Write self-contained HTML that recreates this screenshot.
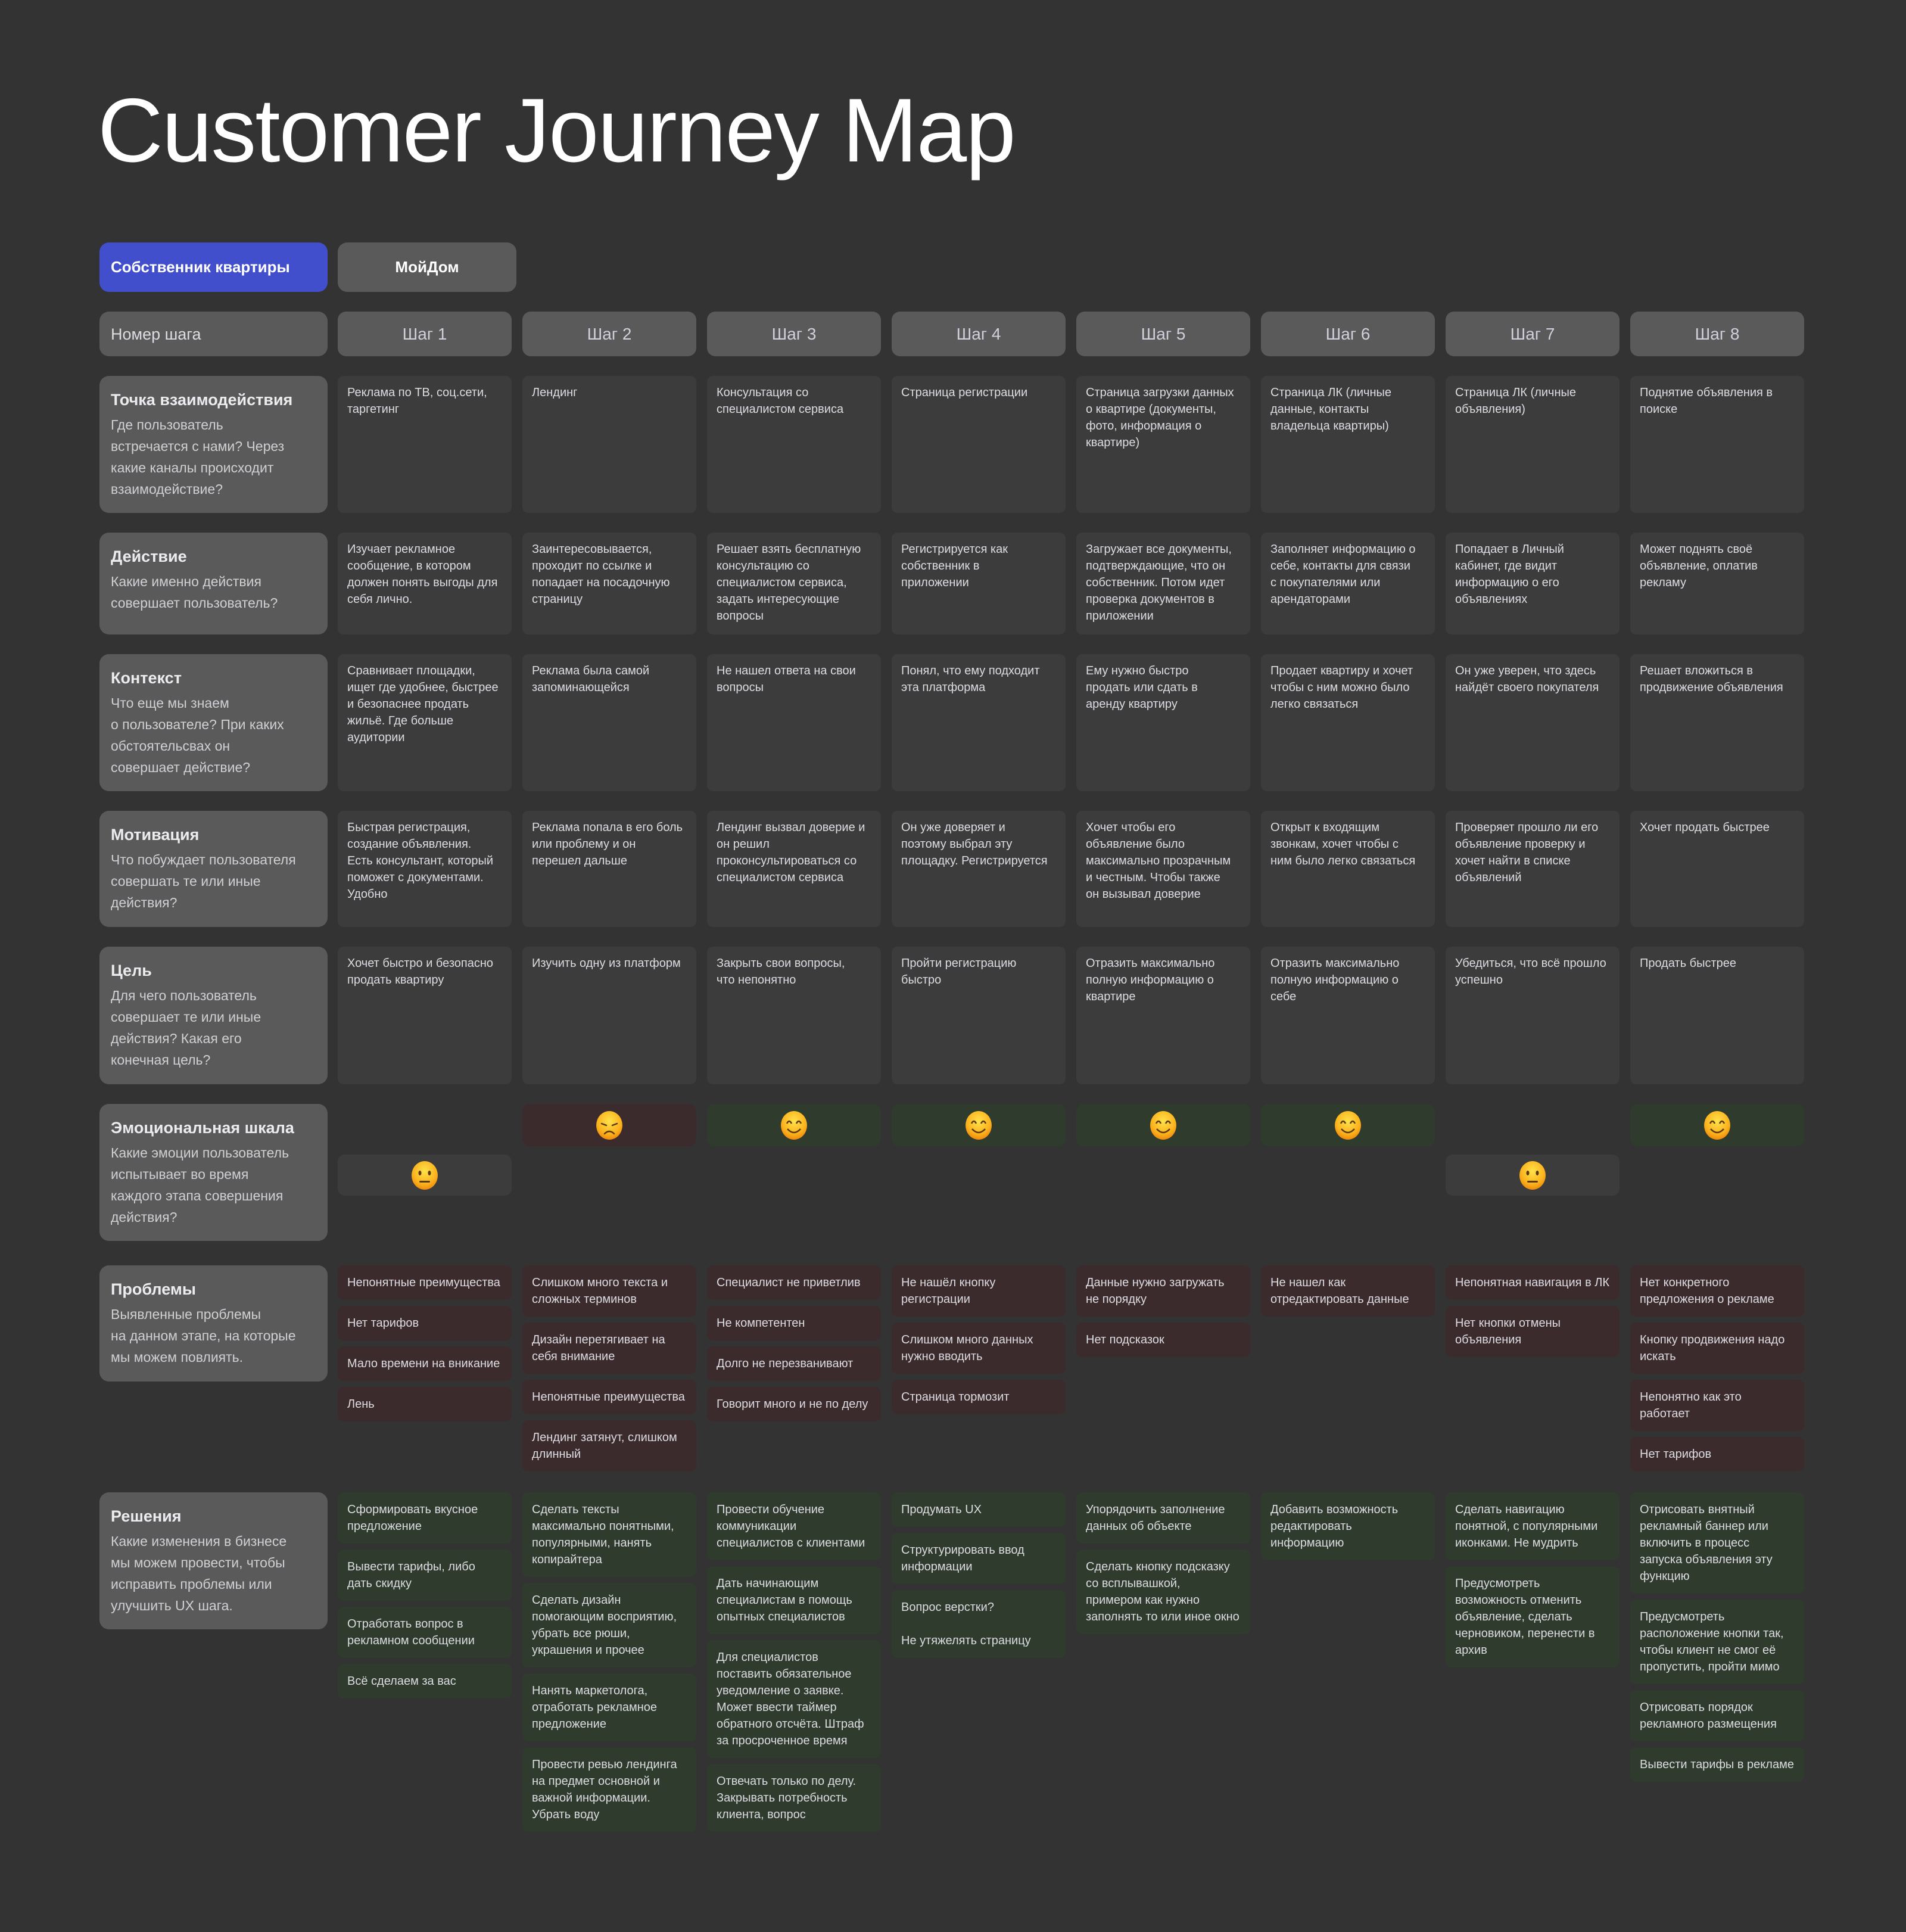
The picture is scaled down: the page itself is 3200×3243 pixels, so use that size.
<!DOCTYPE html>
<html><head><meta charset="utf-8"><style>
*{margin:0;padding:0;box-sizing:border-box}
body{width:3200px;height:3243px;background:#333333;position:relative;overflow:hidden;font-family:"Liberation Sans","DejaVu Sans",sans-serif}
.t{position:absolute;left:164px;top:144px;font-size:152px;line-height:150px;color:#fff;letter-spacing:-2px;white-space:nowrap}
.btn{position:absolute;border-radius:16px;color:#fff;font-size:26px;font-weight:bold;display:flex;align-items:center}
.lab{position:absolute;left:167px;width:383px;background:#5a5a5a;border-radius:16px;padding:22px 19px}
.lab h3{font-size:27px;font-weight:bold;color:#ececf0;line-height:36px;margin-bottom:6px}
.lab p{font-size:23px;line-height:36px;color:#cfcfd4}
.sh{position:absolute;top:523px;height:75px;width:292px;background:#5a5a5a;border-radius:14px;color:#d0d0dc;font-size:28px;display:flex;align-items:center;justify-content:center}
.c{position:absolute;width:292px;background:#3d3c3d;border-radius:10px;padding:14px 16px;font-size:20px;line-height:28px;color:#dcdce2;white-space:nowrap}
.col{position:absolute;width:292px;display:flex;flex-direction:column;gap:10px}
.col div{border-radius:10px;padding:15px 16px;font-size:20px;line-height:28px;color:#dcdce2;white-space:nowrap}
.p div{background:#3c2b2d}
.s div{background:#2e3b2d}
.e{position:absolute;width:292px;border-radius:12px;display:flex;align-items:center;justify-content:center}
.hi{top:1853px;height:71px}
.lo{top:1938px;height:69px;background:#3d3c3d}
.g{background:#2e3b2d}.r{background:#3c2b2d}
</style></head><body>
<svg width="0" height="0" style="position:absolute"><defs><radialGradient id="yg" cx="50%" cy="35%" r="65%"><stop offset="0" stop-color="#ffe24a"/><stop offset="0.7" stop-color="#fbb21d"/><stop offset="1" stop-color="#f08a0c"/></radialGradient></defs></svg>

<div class="t">Customer Journey Map</div>

<div class="btn" style="left:167px;top:407px;width:383px;height:83px;background:#424fcc;padding-left:19px">Собственник квартиры</div>
<div class="btn" style="left:567px;top:407px;width:300px;height:83px;background:#5a5a5a;justify-content:center">МойДом</div>

<div class="lab" style="top:523px;height:75px;display:flex;align-items:center;padding-top:0;padding-bottom:0"><p style="font-size:27px;color:#dcdce2">Номер шага</p></div>
<div class="sh" style="left:567px">Шаг 1</div>
<div class="sh" style="left:877px">Шаг 2</div>
<div class="sh" style="left:1187px">Шаг 3</div>
<div class="sh" style="left:1497px">Шаг 4</div>
<div class="sh" style="left:1807px">Шаг 5</div>
<div class="sh" style="left:2117px">Шаг 6</div>
<div class="sh" style="left:2427px">Шаг 7</div>
<div class="sh" style="left:2737px">Шаг 8</div>

<div class="lab" style="top:631px;height:230px"><h3>Точка взаимодействия</h3><p>Где пользователь<br>встречается с нами? Через<br>какие каналы происходит<br>взаимодействие?</p></div>
<div class="c" style="left:567px;top:631px;height:230px">Реклама по ТВ, соц.сети,<br>таргетинг</div>
<div class="c" style="left:877px;top:631px;height:230px">Лендинг</div>
<div class="c" style="left:1187px;top:631px;height:230px">Консультация со<br>специалистом сервиса</div>
<div class="c" style="left:1497px;top:631px;height:230px">Страница регистрации</div>
<div class="c" style="left:1807px;top:631px;height:230px">Страница загрузки данных<br>о квартире (документы,<br>фото, информация о<br>квартире)</div>
<div class="c" style="left:2117px;top:631px;height:230px">Страница ЛК (личные<br>данные, контакты<br>владельца квартиры)</div>
<div class="c" style="left:2427px;top:631px;height:230px">Страница ЛК (личные<br>объявления)</div>
<div class="c" style="left:2737px;top:631px;height:230px">Поднятие объявления в<br>поиске</div>

<div class="lab" style="top:894px;height:171px"><h3>Действие</h3><p>Какие именно действия<br>совершает пользователь?</p></div>
<div class="c" style="left:567px;top:894px;height:171px">Изучает рекламное<br>сообщение, в котором<br>должен понять выгоды для<br>себя лично.</div>
<div class="c" style="left:877px;top:894px;height:171px">Заинтересовывается,<br>проходит по ссылке и<br>попадает на посадочную<br>страницу</div>
<div class="c" style="left:1187px;top:894px;height:171px">Решает взять бесплатную<br>консультацию со<br>специалистом сервиса,<br>задать интересующие<br>вопросы</div>
<div class="c" style="left:1497px;top:894px;height:171px">Регистрируется как<br>собственник в<br>приложении</div>
<div class="c" style="left:1807px;top:894px;height:171px">Загружает все документы,<br>подтверждающие, что он<br>собственник. Потом идет<br>проверка документов в<br>приложении</div>
<div class="c" style="left:2117px;top:894px;height:171px">Заполняет информацию о<br>себе, контакты для связи<br>с покупателями или<br>арендаторами</div>
<div class="c" style="left:2427px;top:894px;height:171px">Попадает в Личный<br>кабинет, где видит<br>информацию о его<br>объявлениях</div>
<div class="c" style="left:2737px;top:894px;height:171px">Может поднять своё<br>объявление, оплатив<br>рекламу</div>

<div class="lab" style="top:1098px;height:230px"><h3>Контекст</h3><p>Что еще мы знаем<br>о пользователе? При каких<br>обстоятельсвах он<br>совершает действие?</p></div>
<div class="c" style="left:567px;top:1098px;height:230px">Сравнивает площадки,<br>ищет где удобнее, быстрее<br>и безопаснее продать<br>жильё. Где больше<br>аудитории</div>
<div class="c" style="left:877px;top:1098px;height:230px">Реклама была самой<br>запоминающейся</div>
<div class="c" style="left:1187px;top:1098px;height:230px">Не нашел ответа на свои<br>вопросы</div>
<div class="c" style="left:1497px;top:1098px;height:230px">Понял, что ему подходит<br>эта платформа</div>
<div class="c" style="left:1807px;top:1098px;height:230px">Ему нужно быстро<br>продать или сдать в<br>аренду квартиру</div>
<div class="c" style="left:2117px;top:1098px;height:230px">Продает квартиру и хочет<br>чтобы с ним можно было<br>легко связаться</div>
<div class="c" style="left:2427px;top:1098px;height:230px">Он уже уверен, что здесь<br>найдёт своего покупателя</div>
<div class="c" style="left:2737px;top:1098px;height:230px">Решает вложиться в<br>продвижение объявления</div>

<div class="lab" style="top:1361px;height:195px"><h3>Мотивация</h3><p>Что побуждает пользователя<br>совершать те или иные<br>действия?</p></div>
<div class="c" style="left:567px;top:1361px;height:195px">Быстрая регистрация,<br>создание объявления.<br>Есть консультант, который<br>поможет с документами.<br>Удобно</div>
<div class="c" style="left:877px;top:1361px;height:195px">Реклама попала в его боль<br>или проблему и он<br>перешел дальше</div>
<div class="c" style="left:1187px;top:1361px;height:195px">Лендинг вызвал доверие и<br>он решил<br>проконсультироваться со<br>специалистом сервиса</div>
<div class="c" style="left:1497px;top:1361px;height:195px">Он уже доверяет и<br>поэтому выбрал эту<br>площадку. Регистрируется</div>
<div class="c" style="left:1807px;top:1361px;height:195px">Хочет чтобы его<br>объявление было<br>максимально прозрачным<br>и честным. Чтобы также<br>он вызывал доверие</div>
<div class="c" style="left:2117px;top:1361px;height:195px">Открыт к входящим<br>звонкам, хочет чтобы с<br>ним было легко связаться</div>
<div class="c" style="left:2427px;top:1361px;height:195px">Проверяет прошло ли его<br>объявление проверку и<br>хочет найти в списке<br>объявлений</div>
<div class="c" style="left:2737px;top:1361px;height:195px">Хочет продать быстрее</div>

<div class="lab" style="top:1589px;height:231px"><h3>Цель</h3><p>Для чего пользователь<br>совершает те или иные<br>действия? Какая его<br>конечная цель?</p></div>
<div class="c" style="left:567px;top:1589px;height:231px">Хочет быстро и безопасно<br>продать квартиру</div>
<div class="c" style="left:877px;top:1589px;height:231px">Изучить одну из платформ</div>
<div class="c" style="left:1187px;top:1589px;height:231px">Закрыть свои вопросы,<br>что непонятно</div>
<div class="c" style="left:1497px;top:1589px;height:231px">Пройти регистрацию<br>быстро</div>
<div class="c" style="left:1807px;top:1589px;height:231px">Отразить максимально<br>полную информацию о<br>квартире</div>
<div class="c" style="left:2117px;top:1589px;height:231px">Отразить максимально<br>полную информацию о<br>себе</div>
<div class="c" style="left:2427px;top:1589px;height:231px">Убедиться, что всё прошло<br>успешно</div>
<div class="c" style="left:2737px;top:1589px;height:231px">Продать быстрее</div>

<div class="lab" style="top:1853px;height:230px"><h3>Эмоциональная шкала</h3><p>Какие эмоции пользователь<br>испытывает во время<br>каждого этапа совершения<br>действия?</p></div>
<div class="e lo" style="left:567px"><svg width="46" height="50" viewBox="0 0 46 50"><ellipse cx="23" cy="25" rx="22" ry="24" fill="url(#yg)"/><ellipse cx="15" cy="21" rx="2.5" ry="4" fill="#5a3a10"/><ellipse cx="31" cy="21" rx="2.5" ry="4" fill="#5a3a10"/><rect x="14" y="34" width="18" height="3" rx="1.5" fill="#5a3a10"/></svg></div>
<div class="e hi r" style="left:877px"><svg width="46" height="50" viewBox="0 0 46 50"><ellipse cx="23" cy="25" rx="22" ry="24" fill="url(#yg)"/><path d="M10 22 L18 25 M36 22 L28 25" stroke="#5a3a10" stroke-width="2.5" stroke-linecap="round"/><path d="M15 39 Q23 31 31 39" stroke="#5a3a10" stroke-width="2.5" fill="none" stroke-linecap="round"/></svg></div>
<div class="e hi g" style="left:1187px"><svg width="46" height="50" viewBox="0 0 46 50"><ellipse cx="23" cy="25" rx="22" ry="24" fill="url(#yg)"/><path d="M11 22 Q15 14 19 22 M27 22 Q31 14 35 22" stroke="#5a3a10" stroke-width="2.5" fill="none"/><path d="M12 31 Q23 43 34 31" stroke="#5a3a10" stroke-width="2.5" fill="none"/></svg></div>
<div class="e hi g" style="left:1497px"><svg width="46" height="50" viewBox="0 0 46 50"><ellipse cx="23" cy="25" rx="22" ry="24" fill="url(#yg)"/><path d="M11 22 Q15 14 19 22 M27 22 Q31 14 35 22" stroke="#5a3a10" stroke-width="2.5" fill="none"/><path d="M12 31 Q23 43 34 31" stroke="#5a3a10" stroke-width="2.5" fill="none"/></svg></div>
<div class="e hi g" style="left:1807px"><svg width="46" height="50" viewBox="0 0 46 50"><ellipse cx="23" cy="25" rx="22" ry="24" fill="url(#yg)"/><path d="M11 22 Q15 14 19 22 M27 22 Q31 14 35 22" stroke="#5a3a10" stroke-width="2.5" fill="none"/><path d="M12 31 Q23 43 34 31" stroke="#5a3a10" stroke-width="2.5" fill="none"/></svg></div>
<div class="e hi g" style="left:2117px"><svg width="46" height="50" viewBox="0 0 46 50"><ellipse cx="23" cy="25" rx="22" ry="24" fill="url(#yg)"/><path d="M11 22 Q15 14 19 22 M27 22 Q31 14 35 22" stroke="#5a3a10" stroke-width="2.5" fill="none"/><path d="M12 31 Q23 43 34 31" stroke="#5a3a10" stroke-width="2.5" fill="none"/></svg></div>
<div class="e lo" style="left:2427px"><svg width="46" height="50" viewBox="0 0 46 50"><ellipse cx="23" cy="25" rx="22" ry="24" fill="url(#yg)"/><ellipse cx="15" cy="21" rx="2.5" ry="4" fill="#5a3a10"/><ellipse cx="31" cy="21" rx="2.5" ry="4" fill="#5a3a10"/><rect x="14" y="34" width="18" height="3" rx="1.5" fill="#5a3a10"/></svg></div>
<div class="e hi g" style="left:2737px"><svg width="46" height="50" viewBox="0 0 46 50"><ellipse cx="23" cy="25" rx="22" ry="24" fill="url(#yg)"/><path d="M11 22 Q15 14 19 22 M27 22 Q31 14 35 22" stroke="#5a3a10" stroke-width="2.5" fill="none"/><path d="M12 31 Q23 43 34 31" stroke="#5a3a10" stroke-width="2.5" fill="none"/></svg></div>

<div class="lab" style="top:2124px;height:195px"><h3>Проблемы</h3><p>Выявленные проблемы<br>на данном этапе, на которые<br>мы можем повлиять.</p></div>
<div class="col p" style="left:567px;top:2124px"><div>Непонятные преимущества</div><div>Нет тарифов</div><div>Мало времени на вникание</div><div>Лень</div></div>
<div class="col p" style="left:877px;top:2124px"><div>Слишком много текста и<br>сложных терминов</div><div>Дизайн перетягивает на<br>себя внимание</div><div>Непонятные преимущества</div><div>Лендинг затянут, слишком<br>длинный</div></div>
<div class="col p" style="left:1187px;top:2124px"><div>Специалист не приветлив</div><div>Не компетентен</div><div>Долго не перезванивают</div><div>Говорит много и не по делу</div></div>
<div class="col p" style="left:1497px;top:2124px"><div>Не нашёл кнопку<br>регистрации</div><div>Слишком много данных<br>нужно вводить</div><div>Страница тормозит</div></div>
<div class="col p" style="left:1807px;top:2124px"><div>Данные нужно загружать<br>не порядку</div><div>Нет подсказок</div></div>
<div class="col p" style="left:2117px;top:2124px"><div>Не нашел как<br>отредактировать данные</div></div>
<div class="col p" style="left:2427px;top:2124px"><div>Непонятная навигация в ЛК</div><div>Нет кнопки отмены<br>объявления</div></div>
<div class="col p" style="left:2737px;top:2124px"><div>Нет конкретного<br>предложения о рекламе</div><div>Кнопку продвижения надо<br>искать</div><div>Непонятно как это<br>работает</div><div>Нет тарифов</div></div>

<div class="lab" style="top:2505px;height:230px"><h3>Решения</h3><p>Какие изменения в бизнесе<br>мы можем провести, чтобы<br>исправить проблемы или<br>улучшить UX шага.</p></div>
<div class="col s" style="left:567px;top:2505px"><div>Сформировать вкусное<br>предложение</div><div>Вывести тарифы, либо<br>дать скидку</div><div>Отработать вопрос в<br>рекламном сообщении</div><div>Всё сделаем за вас</div></div>
<div class="col s" style="left:877px;top:2505px"><div>Сделать тексты<br>максимально понятными,<br>популярными, нанять<br>копирайтера</div><div>Сделать дизайн<br>помогающим восприятию,<br>убрать все рюши,<br>украшения и прочее</div><div>Нанять маркетолога,<br>отработать рекламное<br>предложение</div><div>Провести ревью лендинга<br>на предмет основной и<br>важной информации.<br>Убрать воду</div></div>
<div class="col s" style="left:1187px;top:2505px"><div>Провести обучение<br>коммуникации<br>специалистов с клиентами</div><div>Дать начинающим<br>специалистам в помощь<br>опытных специалистов</div><div>Для специалистов<br>поставить обязательное<br>уведомление о заявке.<br>Может ввести таймер<br>обратного отсчёта. Штраф<br>за просроченное время</div><div>Отвечать только по делу.<br>Закрывать потребность<br>клиента, вопрос</div></div>
<div class="col s" style="left:1497px;top:2505px"><div>Продумать UX</div><div>Структурировать ввод<br>информации</div><div>Вопрос верстки?<br><br>Не утяжелять страницу</div></div>
<div class="col s" style="left:1807px;top:2505px"><div>Упорядочить заполнение<br>данных об объекте</div><div>Сделать кнопку подсказку<br>со всплывашкой,<br>примером как нужно<br>заполнять то или иное окно</div></div>
<div class="col s" style="left:2117px;top:2505px"><div>Добавить возможность<br>редактировать<br>информацию</div></div>
<div class="col s" style="left:2427px;top:2505px"><div>Сделать навигацию<br>понятной, с популярными<br>иконками. Не мудрить</div><div>Предусмотреть<br>возможность отменить<br>объявление, сделать<br>черновиком, перенести в<br>архив</div></div>
<div class="col s" style="left:2737px;top:2505px"><div>Отрисовать внятный<br>рекламный баннер или<br>включить в процесс<br>запуска объявления эту<br>функцию</div><div>Предусмотреть<br>расположение кнопки так,<br>чтобы клиент не смог её<br>пропустить, пройти мимо</div><div>Отрисовать порядок<br>рекламного размещения</div><div>Вывести тарифы в рекламе</div></div>
</body></html>
